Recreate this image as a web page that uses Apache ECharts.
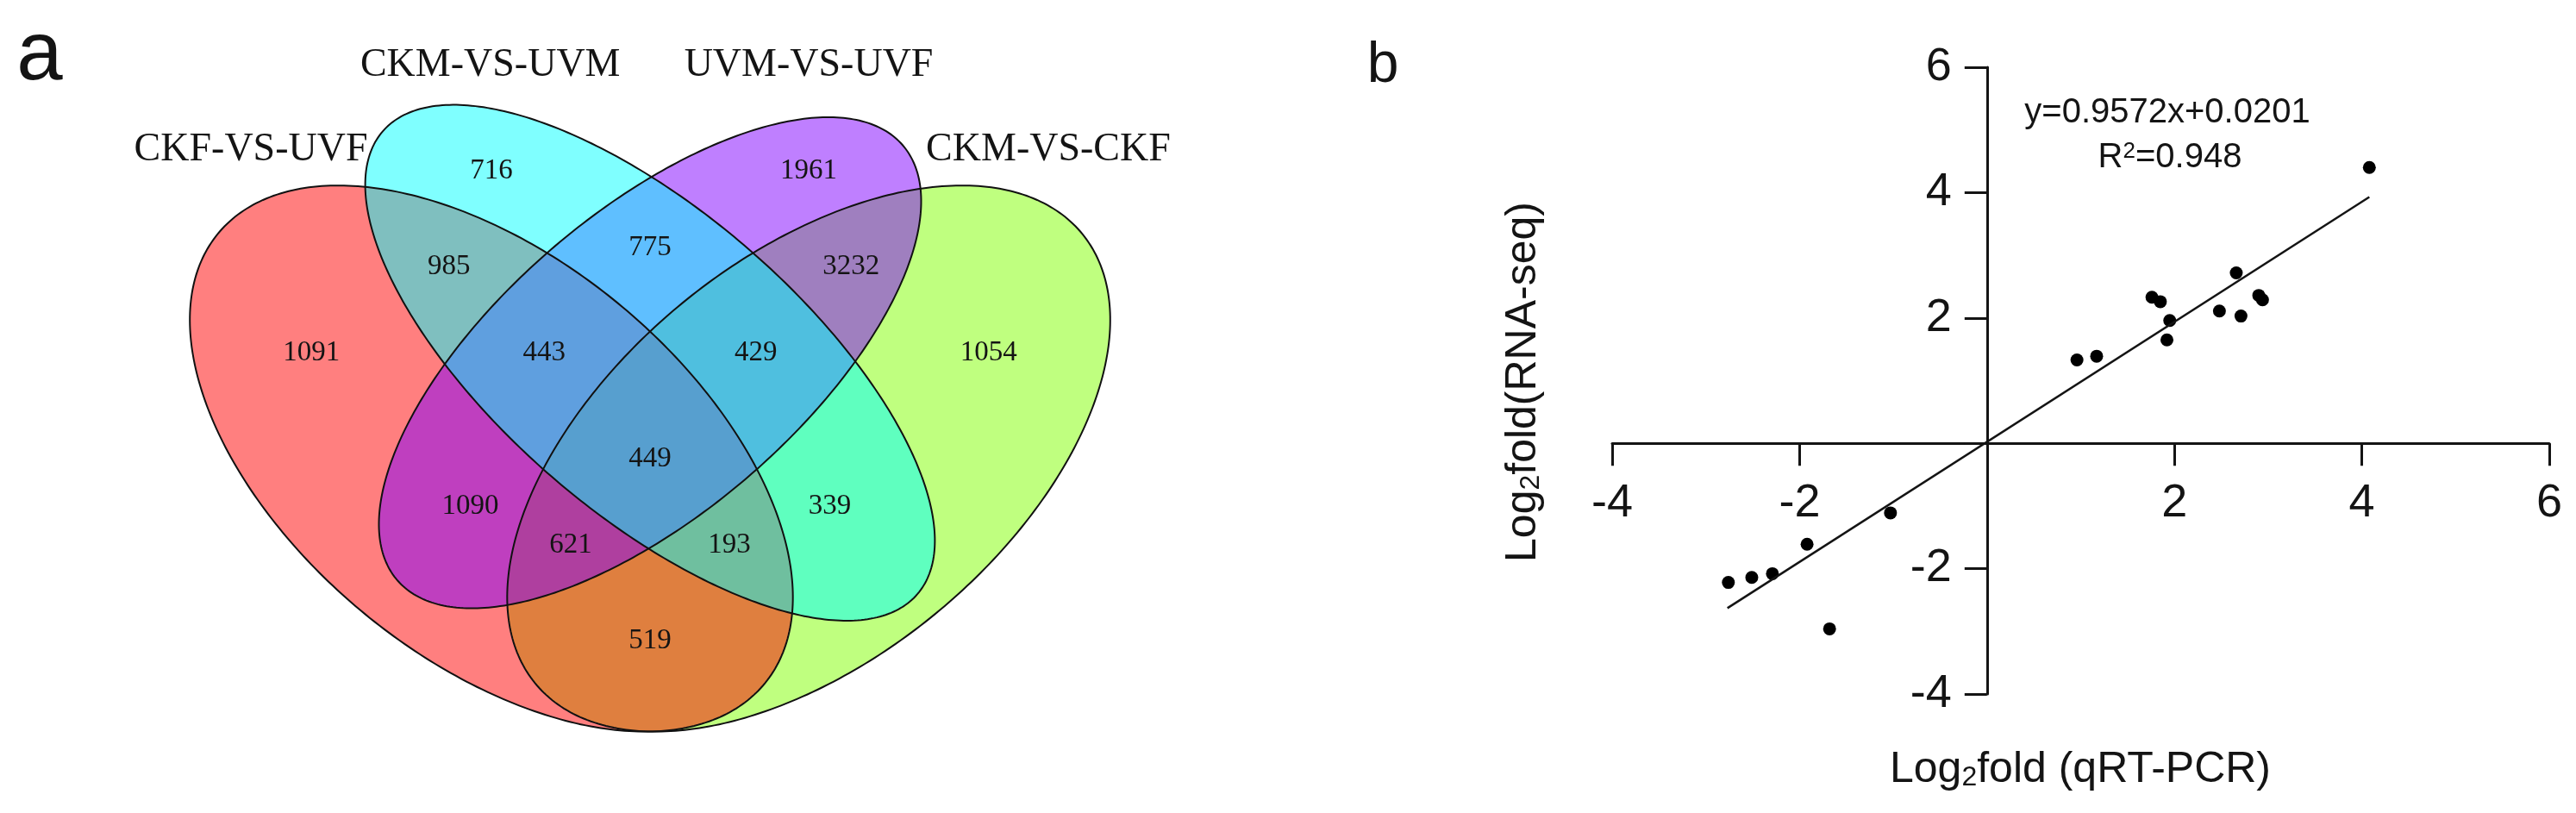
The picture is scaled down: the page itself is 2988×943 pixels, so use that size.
<!DOCTYPE html>
<html><head><meta charset="utf-8">
<script src="https://cdn.jsdelivr.net/npm/echarts@6/dist/echarts.min.js"></script>
<style>html,body{margin:0;padding:0;background:#fff}#main{width:2988px;height:943px}</style>
</head><body><div id="main"></div>
<script>
// ================= DATA =================
// Panel a: Venn diagram
const setNames = ['CKF-VS-UVF', 'CKM-VS-UVM', 'UVM-VS-UVF', 'CKM-VS-CKF'];
// region counts (VennDiagram quad order)
const regionCounts = [716, 775, 1961, 1091, 1054, 985, 443, 449, 429, 3232, 1090, 621, 193, 339, 519];

// Panel b: qRT-PCR vs RNA-seq
const qpcrLog2   = [4.08, 2.66, 1.76, 1.85, 1.95, 1.92, 2.48, 2.71, 2.90, 2.94, 0.96, 1.17, -1.03, -1.92, -2.29, -2.51, -2.76, -1.68];
const rnaseqLog2 = [4.40, 2.72, 2.33, 2.26, 1.96, 1.65, 2.11, 2.03, 2.36, 2.29, 1.33, 1.39, -1.11, -1.61, -2.08, -2.14, -2.22, -2.96];
const fitLineX = [-2.77, 4.08];
const fitLineY = [-2.63, 3.93];
const fitEquation = 'y=0.9572x+0.0201';
const fitR2 = '0.948';
const axisMin = -4, axisMax = 6, axisStep = 2;

// ================= LAYOUT (unit square of the Venn plot) =================
const ellipseLayout = [
  {cx: 0.35, cy: 0.47, a: 0.35, b: 0.20, rot: 135, fill: 'rgba(255,0,0,0.5)'},
  {cx: 0.50, cy: 0.57, a: 0.35, b: 0.15, rot: 135, fill: 'rgba(0,255,255,0.5)'},
  {cx: 0.50, cy: 0.57, a: 0.33, b: 0.15, rot: 45,  fill: 'rgba(128,0,255,0.5)'},
  {cx: 0.65, cy: 0.47, a: 0.35, b: 0.20, rot: 45,  fill: 'rgba(128,255,0,0.5)'}
];
const drawOrder = [3, 0, 2, 1];
const regionPosX = [0.35, 0.50, 0.65, 0.18, 0.82, 0.31, 0.40, 0.50, 0.60, 0.69, 0.33, 0.425, 0.575, 0.67, 0.50];
const regionPosY = [0.77, 0.69, 0.77, 0.58, 0.58, 0.67, 0.58, 0.47, 0.58, 0.67, 0.42, 0.38, 0.38, 0.42, 0.28];
const setLabelPosX = [0.1227, 0.349, 0.65, 0.8765];
const setLabelPosY = [0.7925, 0.8805, 0.8805, 0.7925];

const SANS = '"Liberation Sans", Arial, sans-serif';
const SERIF = '"Liberation Serif", "Times New Roman", serif';
const INK = '#141414';

// scatter grid geometry
const G = {left: 1870, top: 78, width: 1087, height: 727};
// offsets that place each axis on the other's zero
const xAxisOffset = -(G.height * (0 - axisMin) / (axisMax - axisMin));
const yAxisOffset = -(G.width * (0 - axisMin) / (axisMax - axisMin));

function ellipsePts(api, e) {
  const pts = [];
  const t = e.rot * Math.PI / 180;
  for (let i = 0; i < 360; i++) {
    const ang = i * Math.PI / 180;
    const px = e.a * Math.cos(ang), py = e.b * Math.sin(ang);
    const x = e.cx + px * Math.cos(t) - py * Math.sin(t);
    const y = e.cy + px * Math.sin(t) + py * Math.cos(t);
    pts.push(api.coord([x, y]));
  }
  return pts;
}

const chart = echarts.init(document.getElementById('main'), null, {renderer: 'canvas'});

const hiddenAxis = (min, max, idx) => ({type: 'value', gridIndex: idx, min: min, max: max, show: false});

function valAxis(pos, offset, margin) {
  return {
    type: 'value', gridIndex: 1, min: axisMin, max: axisMax, interval: axisStep,
    position: pos, offset: offset,
    axisLine: {show: true, onZero: false, lineStyle: {color: INK, width: 3}},
    axisTick: {show: true, length: 26, lineStyle: {color: INK, width: 3}},
    splitLine: {show: false},
    axisLabel: {
      margin: margin, fontSize: 54, fontFamily: SANS, color: INK,
      formatter: v => (v === 0 ? '' : String(v))
    }
  };
}

const option = {
  backgroundColor: '#fff',
  animation: false,
  grid: [
    {left: 140.5, width: 1227, top: 54.1, height: 981.6},
    {left: G.left, width: G.width, top: G.top, height: G.height}
  ],
  xAxis: [hiddenAxis(0, 1, 0), valAxis('bottom', xAxisOffset, 43)],
  yAxis: [hiddenAxis(0.1, 0.9, 0), valAxis('left', yAxisOffset, 41)],
  series: [
    {
      type: 'custom', name: 'vennFill', xAxisIndex: 0, yAxisIndex: 0, silent: true,
      data: drawOrder.map(i => [i]),
      renderItem: function (params, api) {
        const e = ellipseLayout[api.value(0)];
        return {type: 'polygon', shape: {points: ellipsePts(api, e)}, style: {fill: e.fill, stroke: null}};
      }
    },
    {
      type: 'custom', name: 'vennOutline', xAxisIndex: 0, yAxisIndex: 0, silent: true,
      data: drawOrder.map(i => [i]),
      renderItem: function (params, api) {
        const e = ellipseLayout[api.value(0)];
        return {type: 'polygon', shape: {points: ellipsePts(api, e)}, style: {fill: 'none', stroke: '#111', lineWidth: 2}};
      }
    },
    {
      type: 'custom', name: 'regionLabels', xAxisIndex: 0, yAxisIndex: 0, silent: true,
      data: regionCounts.map((c, i) => [regionPosX[i], regionPosY[i], c]),
      renderItem: function (params, api) {
        const p = api.coord([api.value(0), api.value(1)]);
        return {type: 'text', x: p[0], y: p[1], style: {text: String(api.value(2)), font: '33px ' + SERIF, fill: INK, align: 'center', verticalAlign: 'middle'}};
      }
    },
    {
      type: 'custom', name: 'setLabels', xAxisIndex: 0, yAxisIndex: 0, silent: true,
      data: setNames.map((n, i) => [setLabelPosX[i], setLabelPosY[i], i]),
      renderItem: function (params, api) {
        const p = api.coord([api.value(0), api.value(1)]);
        return {type: 'text', x: p[0], y: p[1], style: {text: setNames[api.value(2)], font: '46px ' + SERIF, fill: INK, align: 'center', verticalAlign: 'middle'}};
      }
    },
    {
      type: 'line', name: 'fit', xAxisIndex: 1, yAxisIndex: 1,
      data: fitLineX.map((x, i) => [x, fitLineY[i]]),
      symbol: 'none', lineStyle: {color: INK, width: 2.5}, silent: true
    },
    {
      type: 'scatter', name: 'genes', xAxisIndex: 1, yAxisIndex: 1,
      data: qpcrLog2.map((x, i) => [x, rnaseqLog2[i]]),
      symbol: 'circle', symbolSize: 15, itemStyle: {color: '#000', opacity: 1}, silent: true
    }
  ],
  graphic: [
    {type: 'text', x: 46, y: 66, style: {text: 'a', font: '96px ' + SANS, fill: INK, align: 'center', verticalAlign: 'middle'}},
    {type: 'text', x: 1604, y: 77, style: {text: 'b', font: '66px ' + SANS, fill: INK, align: 'center', verticalAlign: 'middle'}},
    {type: 'text', x: 2514, y: 131, style: {text: fitEquation, font: '40px ' + SANS, fill: INK, align: 'center', verticalAlign: 'middle'}},
    {type: 'text', x: 2517, y: 183, style: {
      text: '{n|R}{p|2}{n|=' + fitR2 + '}', align: 'center', verticalAlign: 'middle', fill: INK,
      rich: {n: {fontSize: 40, fontFamily: SANS, fill: INK}, p: {fontSize: 26, fontFamily: SANS, fill: INK, lineHeight: 14, verticalAlign: 'top'}}
    }},
    {type: 'text', x: 2413, y: 893, style: {
      text: '{n|Log}{s|2}{n|fold (qRT-PCR)}', align: 'center', verticalAlign: 'middle', fill: INK,
      rich: {n: {fontSize: 50, fontFamily: SANS, fill: INK}, s: {fontSize: 32, fontFamily: SANS, fill: INK, lineHeight: 16, verticalAlign: 'bottom'}}
    }},
    {type: 'text', x: 1767, y: 443, rotation: Math.PI / 2, style: {
      text: '{n|Log}{s|2}{n|fold(RNA-seq)}', align: 'center', verticalAlign: 'middle', fill: INK,
      rich: {n: {fontSize: 50, fontFamily: SANS, fill: INK}, s: {fontSize: 32, fontFamily: SANS, fill: INK, lineHeight: 16, verticalAlign: 'bottom'}}
    }}
  ]
};
chart.setOption(option);
</script>
</body></html>
